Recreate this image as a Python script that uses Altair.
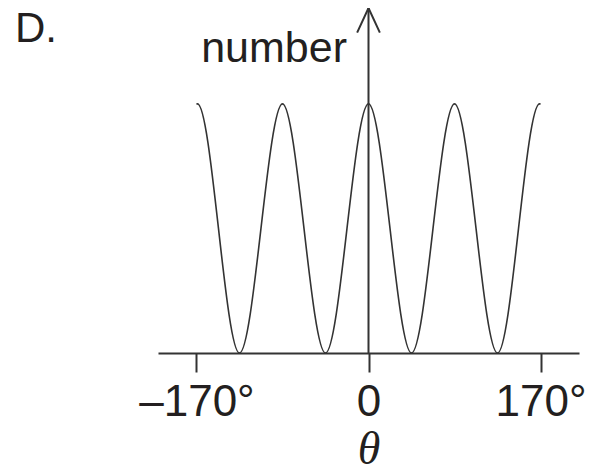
import altair as alt
import pandas as pd

# values
theta_deg = [-170, -169, -127.5, -85, -42.5, 0, 42.5, 85, 127.5, 169, 170]
number_val = [100, 100, 0, 100, 0, 100, 0, 100, 0, 100, 100]

tick_values = [-170, 0, 170]
tick_labels = ["\u2013170\u00b0", "0", "170\u00b0"]
x_title = "\u03b8"
y_title = "number"
panel_label = "D."

LINE = "#333333"
TEXT = "#231f20"

df = pd.DataFrame({"theta": theta_deg, "number": number_val})
one = pd.DataFrame({"k": [0]})

# label expression built from the tick lists
expr = "'" + tick_labels[-1] + "'"
for v, lab in reversed(list(zip(tick_values[:-1], tick_labels[:-1]))):
    expr = f"datum.value == {v} ? '{lab}' : ({expr})"

xs = alt.Scale(domain=[-208, 208], nice=False, zero=False)
ys = alt.Scale(domain=[0, 135.3], nice=False, zero=False)

xaxis = alt.Axis(
    values=tick_values,
    labelExpr=expr,
    grid=False,
    domain=True,
    domainColor=LINE,
    domainWidth=2,
    ticks=True,
    tickSize=19,
    tickWidth=2,
    tickColor=LINE,
    labelFont="Liberation Sans",
    labelFontSize=44,
    labelColor=TEXT,
    labelPadding=8,
    labelFlush=False,
    labelOverlap=False,
    title=x_title,
    titleFont="Liberation Serif",
    titleFontStyle="italic",
    titleFontWeight="normal",
    titleFontSize=46,
    titleColor=TEXT,
    titleBaseline="alphabetic",
    titleAlign="center",
    titleX=210.5,
    titleY=110,
)

curve = alt.Chart(df).mark_line(
    interpolate="monotone", color=LINE, strokeWidth=1.6
).encode(
    x=alt.X("theta:Q", scale=xs, axis=xaxis),
    y=alt.Y("number:Q", scale=ys, axis=None),
)

vaxis = alt.Chart(one).mark_rule(color=LINE, strokeWidth=2).encode(
    x=alt.datum(0),
    y=alt.datum(0),
    y2=alt.value(-8),
)

arrow = alt.Chart(one).mark_point(
    shape="M-0.92,1L0,-1L0.92,1",
    size=610,
    filled=False,
    strokeWidth=2,
    color=LINE,
    opacity=1,
).encode(x=alt.datum(0), y=alt.value(4.35))

ylab = alt.Chart(one).mark_text(
    align="right", baseline="alphabetic", font="Liberation Sans",
    fontSize=43, color=TEXT,
).encode(x=alt.value(189), y=alt.value(45.7), text=alt.value(y_title))

plab = alt.Chart(one).mark_text(
    align="left", baseline="alphabetic", font="Liberation Sans",
    fontSize=42, color=TEXT,
).encode(x=alt.value(-143), y=alt.value(26), text=alt.value(panel_label))

chart = alt.layer(curve, vaxis, arrow, ylab, plab).properties(
    width=421,
    height=337,
    padding={"left": 150, "top": 8, "right": 13, "bottom": 117},
    autosize=alt.AutoSizeParams(type="none"),
    background="white",
).configure_view(stroke=None)

chart.save("out.html", embed_options={"renderer": "svg", "actions": False})
